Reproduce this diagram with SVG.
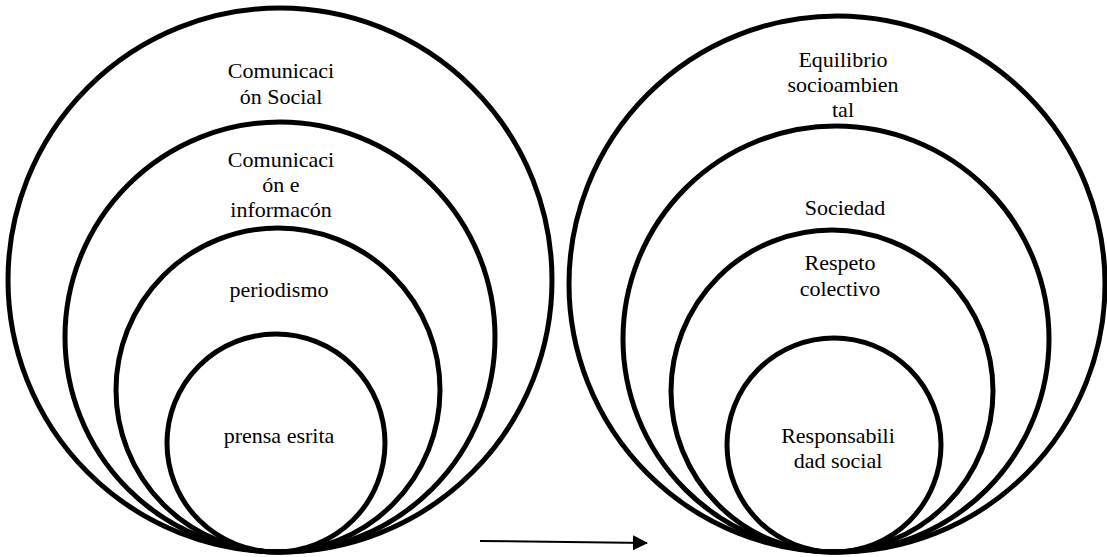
<svg xmlns="http://www.w3.org/2000/svg" width="1107" height="557" viewBox="0 0 1107 557">
<style>
.c{fill:none;stroke:#000;stroke-width:5}
.t{font-family:"Liberation Serif","Times New Roman",serif;font-size:22px;fill:#000;text-anchor:middle}
</style>
<defs>
<marker id="ah" markerWidth="15" markerHeight="15" refX="14" refY="7.5" orient="auto" markerUnits="userSpaceOnUse" viewBox="0 0 15 15">
<path d="M0,0 L15,7.5 L0,15 z" fill="#000"/>
</marker>
</defs>
<rect width="1107" height="557" fill="#fff"/>
<g id="comunicacion-social">
<circle class="c" cx="280" cy="280" r="272"/>
<text class="t" x="281" y="78">Comunicaci</text>
<text class="t" x="281" y="104">ón Social</text>
</g>
<g id="comunicacion-informacion">
<circle class="c" cx="280" cy="337" r="215"/>
<text class="t" x="281" y="167">Comunicaci</text>
<text class="t" x="281" y="192">ón e</text>
<text class="t" x="281" y="217">informacón</text>
</g>
<g id="periodismo">
<circle class="c" cx="278" cy="390" r="162"/>
<text class="t" x="279" y="297">periodismo</text>
</g>
<g id="prensa-escrita">
<circle class="c" cx="276" cy="443" r="109"/>
<text class="t" x="279" y="443">prensa esrita</text>
</g>
<g id="equilibrio">
<circle class="c" cx="837" cy="284" r="268"/>
<text class="t" x="843" y="67">Equilibrio</text>
<text class="t" x="843" y="92">socioambien</text>
<text class="t" x="843" y="117">tal</text>
</g>
<g id="sociedad">
<circle class="c" cx="836" cy="339" r="213"/>
<text class="t" x="845" y="215">Sociedad</text>
</g>
<g id="respeto">
<circle class="c" cx="832" cy="391" r="161"/>
<text class="t" x="840" y="270">Respeto</text>
<text class="t" x="840" y="296">colectivo</text>
</g>
<g id="responsabilidad">
<circle class="c" cx="834" cy="445" r="107"/>
<text class="t" x="838" y="443">Responsabili</text>
<text class="t" x="838" y="468">dad social</text>
</g>
<g id="connectors">
<line x1="480" y1="541" x2="647" y2="543" stroke="#000" stroke-width="2" marker-end="url(#ah)"/>
</g>
</svg>
